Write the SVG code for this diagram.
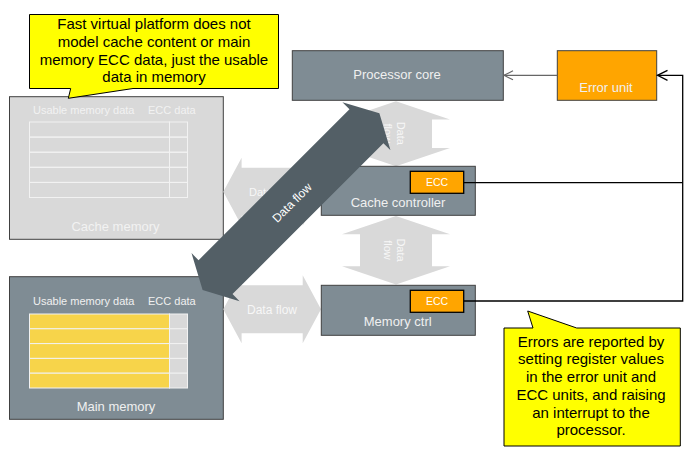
<svg xmlns="http://www.w3.org/2000/svg" width="693" height="454" viewBox="0 0 693 454">
<style>
text { font-family: "Liberation Sans", Arial, sans-serif; }
.box { fill: #7f8c94; stroke: #404040; stroke-width: 1; }
.ghost { fill: #d9d9d9; stroke: #404040; stroke-width: 1; }
.ecc { fill: #ffa500; stroke: #000; stroke-width: 1.3; }
.lbl { fill: #f0f0f0; font-size: 13px; text-anchor: middle; }
.ghostlbl { fill: #f2f2f2; }
.small { font-size: 11px; }
.ecct { fill: #ffffff; font-size: 10.5px; text-anchor: middle; }
.flow { fill: #d9d9d9; }
.flowt { fill: #f7f7f7; font-size: 11px; text-anchor: middle; }
.callout { fill: #ffff00; stroke: #000; stroke-width: 1; }
.ct { fill: #000; font-size: 15px; text-anchor: middle; }
.cell { stroke: #f2f2f2; stroke-width: 1; }
.wire { fill: none; stroke: #000; stroke-width: 1.3; }
</style>
<defs>
<marker id="openBlack" viewBox="-11 -7 13 14" markerWidth="13" markerHeight="14" refX="0" refY="0" orient="auto" markerUnits="userSpaceOnUse">
<path d="M-10,-5 L0,0 L-10,5" fill="none" stroke="#000" stroke-width="1.3"/>
</marker>
<marker id="openGray" viewBox="-11 -7 13 14" markerWidth="13" markerHeight="14" refX="0" refY="0" orient="auto" markerUnits="userSpaceOnUse">
<path d="M-9,-4.5 L0,0 L-9,4.5" fill="none" stroke="#666" stroke-width="1.2"/>
</marker>
</defs>
<rect width="693" height="454" fill="#ffffff"/>

<g id="cache-memory">
<rect class="ghost" x="9.5" y="96.7" width="213.8" height="142.6"/>
<text class="ghostlbl small" x="33" y="114">Usable memory data</text>
<text class="ghostlbl small" x="148" y="114">ECC data</text>
<g fill="none" class="cell">
<rect x="29.5" y="122" width="140" height="15.1"/>
<rect x="29.5" y="137.1" width="140" height="15.1"/>
<rect x="29.5" y="152.2" width="140" height="15.1"/>
<rect x="29.5" y="167.3" width="140" height="15.1"/>
<rect x="29.5" y="182.4" width="140" height="15.1"/>
<rect x="169.5" y="122" width="18" height="15.1"/>
<rect x="169.5" y="137.1" width="18" height="15.1"/>
<rect x="169.5" y="152.2" width="18" height="15.1"/>
<rect x="169.5" y="167.3" width="18" height="15.1"/>
<rect x="169.5" y="182.4" width="18" height="15.1"/>
</g>
<text class="ghostlbl" x="115.5" y="230.8" font-size="13" text-anchor="middle">Cache memory</text>
</g>

<g id="main-memory">
<rect class="box" x="9.5" y="276.7" width="213.8" height="142.6"/>
<text class="small" fill="#f0f0f0" x="33" y="305">Usable memory data</text>
<text class="small" fill="#f0f0f0" x="148" y="305">ECC data</text>
<g class="cell">
<rect fill="#f7d44a" x="29.5" y="314" width="140" height="14.8"/>
<rect fill="#f7d44a" x="29.5" y="328.8" width="140" height="14.8"/>
<rect fill="#f7d44a" x="29.5" y="343.6" width="140" height="14.8"/>
<rect fill="#f7d44a" x="29.5" y="358.4" width="140" height="14.8"/>
<rect fill="#f7d44a" x="29.5" y="373.2" width="140" height="14.8"/>
<rect fill="#d9d9d9" x="169.5" y="314" width="18" height="14.8"/>
<rect fill="#d9d9d9" x="169.5" y="328.8" width="18" height="14.8"/>
<rect fill="#d9d9d9" x="169.5" y="343.6" width="18" height="14.8"/>
<rect fill="#d9d9d9" x="169.5" y="358.4" width="18" height="14.8"/>
<rect fill="#d9d9d9" x="169.5" y="373.2" width="18" height="14.8"/>
</g>
<text class="lbl" x="116" y="410.7">Main memory</text>
</g>

<g id="processor-core">
<rect class="box" x="292.3" y="50.7" width="211" height="49.6"/>
<text class="lbl" x="397" y="79.3">Processor core</text>
</g>

<g id="error-unit">
<rect x="557.3" y="50.7" width="99.4" height="49.6" fill="#ffa500" stroke="#404040" stroke-width="1"/>
<text class="lbl" x="606" y="91.7">Error unit</text>
</g>

<g id="data-flows">
<g id="flow-cache-memory">
<polygon class="flow" points="223.3,191.7 241.6,157.7 241.6,167.7 302.7,167.7 302.7,157.7 321,191.7 302.7,225.7 302.7,215.7 241.6,215.7 241.6,225.7"/>
<text class="flowt" x="272" y="196.2" font-size="12">Data flow</text>
</g>
<g id="flow-main-memory">
<polygon class="flow" points="223.3,309.3 241.6,275.3 241.6,285.3 302.7,285.3 302.7,275.3 321,309.3 302.7,343.3 302.7,333.3 241.6,333.3 241.6,343.3"/>
<text class="flowt" x="272" y="314" style="font-size:12px">Data flow</text>
</g>
<g id="flow-core-cache">
<polygon class="flow" points="396,101.3 450,119.6 432,119.6 432,148 450,148 396,166.3 342,148 360,148 360,119.6 342,119.6"/>
<g transform="translate(396,133.3) rotate(90)">
<text class="flowt" x="0" y="-1.3">Data</text>
<text class="flowt" x="0" y="12">flow</text>
</g>
</g>
<g id="flow-cache-memctrl">
<polygon class="flow" points="396,216 450,234.3 432,234.3 432,266.2 450,266.2 396,284.5 342,266.2 360,266.2 360,234.3 342,234.3"/>
<g transform="translate(396,250) rotate(90)">
<text class="flowt" x="0" y="-1.3">Data</text>
<text class="flowt" x="0" y="12">flow</text>
</g>
</g>
</g>

<g id="cache-controller">
<rect class="box" x="321.3" y="166.3" width="154" height="49"/>
<rect class="ecc" x="410.3" y="171.3" width="53.4" height="22"/>
<text class="ecct" x="437" y="186.2">ECC</text>
<text class="lbl" x="398" y="206.6">Cache controller</text>
</g>

<g id="memory-ctrl">
<rect class="box" x="321.3" y="285.3" width="154" height="50"/>
<rect class="ecc" x="410.3" y="290.3" width="53.4" height="22"/>
<text class="ecct" x="437" y="304.8">ECC</text>
<text class="lbl" x="397.7" y="325.5">Memory ctrl</text>
</g>

<g id="fast-data-flow" transform="translate(291,201.7) rotate(-45)">
<polygon fill="#535f66" points="-125,0 -106.7,-34 -106.7,-24 106.7,-24 106.7,-34 125,0 106.7,34 106.7,24 -106.7,24 -106.7,34"/>
<text x="0" y="5.5" fill="#ffffff" font-size="12" text-anchor="middle">Data flow</text>
</g>

<g id="connectors">
<line x1="557.3" y1="75.3" x2="504" y2="75.3" stroke="#666" stroke-width="1.2" marker-end="url(#openGray)"/>
<path class="wire" d="M463.7,182.7 H682.7"/>
<path class="wire" d="M463.7,301 H682.7 V75.3 H657.5" marker-end="url(#openBlack)"/>
</g>

<g id="note-model">
<path class="callout" d="M29.5,14.5 H278.5 V88.5 H133 L68.3,98.3 L70.7,88.5 H29.5 Z"/>
<text class="ct" x="154" y="29.3">Fast virtual platform does not</text>
<text class="ct" x="154" y="46.9">model cache content or main</text>
<text class="ct" x="154" y="64.5">memory ECC data, just the usable</text>
<text class="ct" x="154" y="82.1">data in memory</text>
</g>

<g id="note-errors">
<path class="callout" d="M504,328 H533 L527.7,311 L576.7,328 H680.3 V446 H504 Z"/>
<text class="ct" x="591" y="346.7">Errors are reported by</text>
<text class="ct" x="591" y="364.4">setting register values</text>
<text class="ct" x="591" y="382.1">in the error unit and</text>
<text class="ct" x="591" y="399.8">ECC units, and raising</text>
<text class="ct" x="591" y="417.5">an interrupt to the</text>
<text class="ct" x="591" y="435.2">processor.</text>
</g>
</svg>
